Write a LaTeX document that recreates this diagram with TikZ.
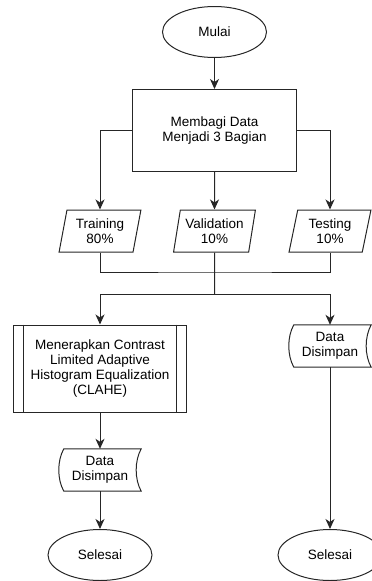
\documentclass[tikz,border=0pt]{standalone}
\usepackage{fontspec}
\setmainfont{Liberation Sans}
\usetikzlibrary{shapes.geometric,arrows.meta,calc}

\begin{document}
\begin{tikzpicture}[x=1pt,y=-1pt,
    font=\fontsize{13.5}{15}\selectfont,
    every node/.style={align=center,inner sep=0pt},
    garis/.style={line width=1pt,draw=black!85},
    panah/.style={garis,-{Stealth[length=10pt,width=9pt,inset=3pt]}},
    terminal/.style={ellipse,garis,minimum width=104,minimum height=51},
    proses/.style={rectangle,garis,minimum width=164,minimum height=82},
    masukan/.style={trapezium,trapezium left angle=77,trapezium right angle=103,
        trapezium stretches=true,garis,minimum width=82,minimum height=42},
    simpan/.style={rectangle,minimum width=82,minimum height=42}]
    \useasboundingbox (0,0) rectangle (372,581);

    % --- Atas: mulai dan pembagian data ---
    \node[terminal] (mulai) at (214.5,32) {Mulai};
    \node[proses] (bagi) at (214.5,130.5) {Membagi Data\\Menjadi 3 Bagian};

    \node[masukan] (train) at (100,231) {Training\\80\%};
    \node[masukan] (valid) at (214.5,231) {Validation\\10\%};
    \node[masukan] (test) at (330,231) {Testing\\10\%};

    % --- Bawah: CLAHE dan penyimpanan ---
    \node[proses, minimum width=173, minimum height=87] (clahe) at (100,368.5)
        {Menerapkan Contrast\\Limited Adaptive\\Histogram Equalization\\(CLAHE)};
    \node[simpan] (simpanL) at (100,470) {Data\\Disimpan};
    \node[simpan] (simpanR) at (330,346) {Data\\Disimpan};
    \node[terminal] (selesaiL) at (100,555) {Selesai};
    \node[terminal] (selesaiR) at (330,555) {Selesai};

    % garis ganda proses terdefinisi
    \draw[garis] ([xshift=10.5pt]clahe.north west) -- ([xshift=10.5pt]clahe.south west);
    \draw[garis] ([xshift=-10.5pt]clahe.north east) -- ([xshift=-10.5pt]clahe.south east);

    % bentuk data tersimpan
    \foreach \n in {simpanL,simpanR}
        \draw[garis] ([xshift=5pt]\n.north west)
            .. controls ([xshift=-1.7pt,yshift=-12pt]\n.north west)
                and ([xshift=-1.7pt,yshift=12pt]\n.south west) .. ([xshift=5pt]\n.south west)
            -- (\n.south east)
            .. controls ([xshift=-6.7pt,yshift=12pt]\n.south east)
                and ([xshift=-6.7pt,yshift=-12pt]\n.north east) .. (\n.north east) -- cycle;

    % --- Konektor ---
    \coordinate (gabung) at (214.5,272);
    \coordinate (cabang) at (214.5,294);

    \draw[panah] (mulai) -- (bagi);
    \draw[panah] (bagi.west) -| (train.north);
    \draw[panah] (bagi) -- (valid);
    \draw[panah] (bagi.east) -| (test.north);

    \draw[garis] (train.south) |- (gabung) -| (test.south);
    \draw[garis] (valid.south) -- (cabang);
    \draw[panah] (cabang) -| (clahe.north);
    \draw[panah] (cabang) -| (simpanR.north);

    \draw[panah] (clahe) -- (simpanL);
    \draw[panah] (simpanL) -- (selesaiL);
    \draw[panah] (simpanR) -- (selesaiR);
\end{tikzpicture}
\end{document}
